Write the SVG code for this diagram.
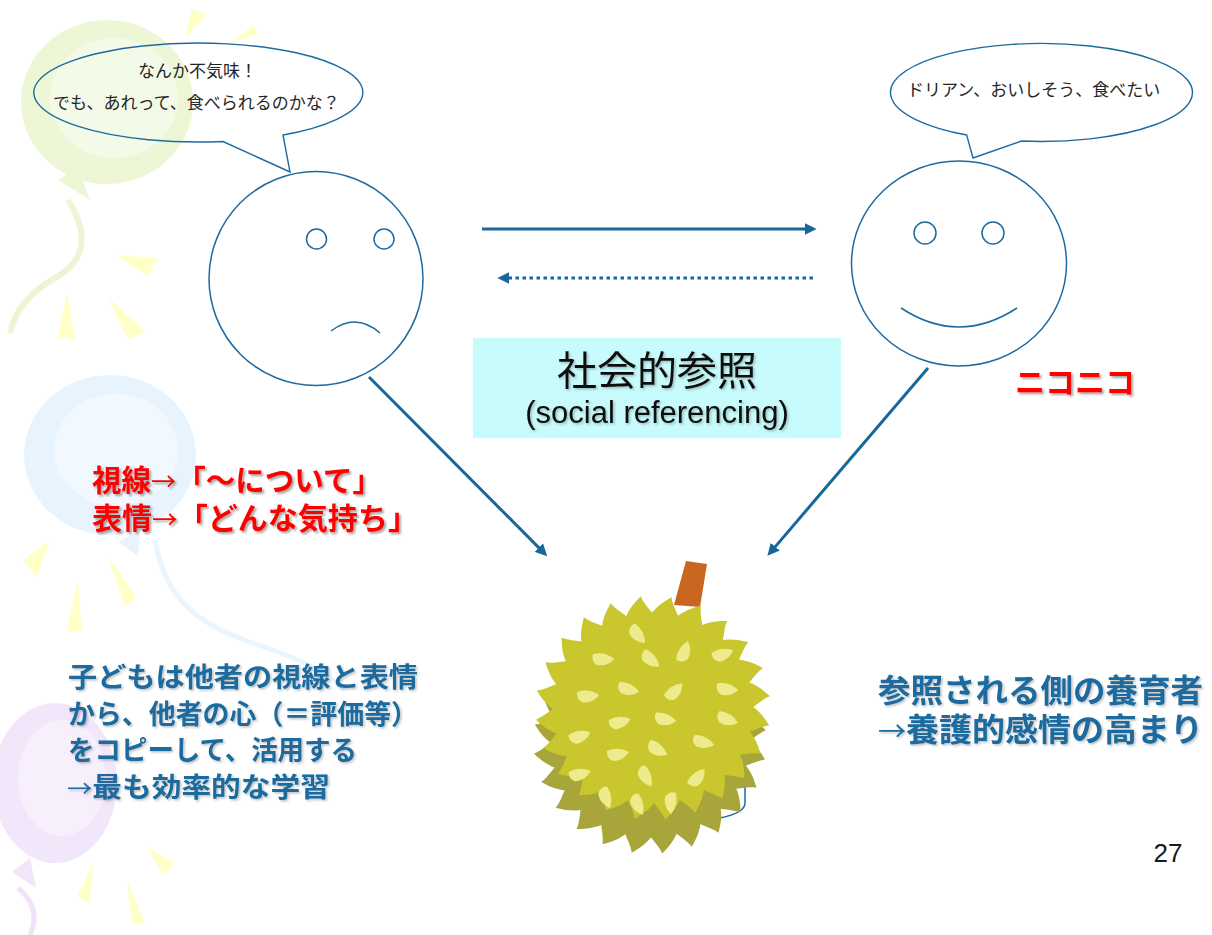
<svg xmlns="http://www.w3.org/2000/svg" xmlns:xlink="http://www.w3.org/1999/xlink" width="1212" height="935" viewBox="0 0 1212 935">
  <style>
    .jp { font-family: "Noto Sans CJK JP", "Noto Sans", sans-serif; }
    .jpl { font-family: "Liberation Sans", "Noto Sans CJK JP", sans-serif; }
    .arr { font-family: "Noto Sans CJK JP", sans-serif; font-weight: normal; font-size: 0.85em; }
    .bubble { fill: none; stroke: #1D6B9E; stroke-width: 1.4; }
    .face { fill: none; stroke: #1D6B9E; stroke-width: 1.5; }
    .say { font-size: 17px; fill: #262626; }
    .arrow { fill: none; stroke: #17679A; stroke-width: 3; marker-end: url(#ah); }
    .red { fill: #FF0000; font-size: 30px; font-weight: bold; }
    .blue { fill: #1A6A9E; font-weight: bold; }
    .ray { fill: #FFFFC8; }
  </style>
  <defs>
    <marker id="ah" viewBox="0 0 10 10" refX="7" refY="5" markerWidth="4" markerHeight="4" orient="auto" markerUnits="strokeWidth">
      <path d="M0,0 L10,5 L0,10 Z" fill="#17679A"/>
    </marker>
    <filter id="shadow" x="-10%" y="-30%" width="120%" height="160%">
      <feDropShadow dx="2" dy="2" stdDeviation="1.2" flood-color="#000" flood-opacity="0.35"/>
    </filter>
    <filter id="softshadow" x="-10%" y="-30%" width="120%" height="160%">
      <feDropShadow dx="1.5" dy="1.5" stdDeviation="1" flood-color="#000" flood-opacity="0.25"/>
    </filter>
    <!-- one rounded spike of the durian husk, base on the rim -->
    <path id="tooth" d="M-17,4 C-13,-10 -4,-18 4,-24 C6,-15 13,-8 17,4 Z"/>
    <g id="husk">
      <circle r="92"/>
      <use xlink:href="#tooth" transform="rotate(7) translate(0,-88)"/>
      <use xlink:href="#tooth" transform="rotate(22) translate(0,-88)"/>
      <use xlink:href="#tooth" transform="rotate(37) translate(0,-88)"/>
      <use xlink:href="#tooth" transform="rotate(52) translate(0,-88)"/>
      <use xlink:href="#tooth" transform="rotate(67) translate(0,-88)"/>
      <use xlink:href="#tooth" transform="rotate(82) translate(0,-88)"/>
      <use xlink:href="#tooth" transform="rotate(97) translate(0,-88)"/>
      <use xlink:href="#tooth" transform="rotate(112) translate(0,-88)"/>
      <use xlink:href="#tooth" transform="rotate(127) translate(0,-88)"/>
      <use xlink:href="#tooth" transform="rotate(142) translate(0,-88)"/>
      <use xlink:href="#tooth" transform="rotate(157) translate(0,-88)"/>
      <use xlink:href="#tooth" transform="rotate(172) translate(0,-88)"/>
      <use xlink:href="#tooth" transform="rotate(187) translate(0,-88)"/>
      <use xlink:href="#tooth" transform="rotate(202) translate(0,-88)"/>
      <use xlink:href="#tooth" transform="rotate(217) translate(0,-88)"/>
      <use xlink:href="#tooth" transform="rotate(232) translate(0,-88)"/>
      <use xlink:href="#tooth" transform="rotate(247) translate(0,-88)"/>
      <use xlink:href="#tooth" transform="rotate(262) translate(0,-88)"/>
      <use xlink:href="#tooth" transform="rotate(277) translate(0,-88)"/>
      <use xlink:href="#tooth" transform="rotate(292) translate(0,-88)"/>
      <use xlink:href="#tooth" transform="rotate(307) translate(0,-88)"/>
      <use xlink:href="#tooth" transform="rotate(322) translate(0,-88)"/>
      <use xlink:href="#tooth" transform="rotate(337) translate(0,-88)"/>
      <use xlink:href="#tooth" transform="rotate(352) translate(0,-88)"/>
    </g>
    <path id="spot" d="M-11,-4 Q0,-9 11,-3 Q5,6 -5,6 Q-12,3 -11,-4 Z"/>
  </defs>

  <rect width="1212" height="935" fill="#FFFFFF"/>

  <!-- background balloons and rays -->
  <g id="backdrop">
    <ellipse cx="107" cy="102" rx="86" ry="82" fill="#EDF7D6"/>
    <ellipse cx="114" cy="98" rx="64" ry="60" fill="#F4FAE8"/>
    <polygon points="58,180 78,167 90,200" fill="#EDF7D6"/>
    <path d="M68,200 C90,235 85,262 55,278 C30,292 15,310 10,333" fill="none" stroke="#ECF6D4" stroke-width="6"/>
    <polygon class="ray" points="185,37 192,9 207,15"/>
    <polygon class="ray" points="230,43 253,25 258,35"/>
    <polygon class="ray" points="117,255 157,258 148,277"/>
    <polygon class="ray" points="67,292 58,337 75,339"/>
    <polygon class="ray" points="108,297 128,340 145,332"/>

    <ellipse cx="110" cy="455" rx="86" ry="80" fill="#E8F4FD"/>
    <ellipse cx="116" cy="450" rx="62" ry="56" fill="#F1F8FE"/>
    <polygon points="118,542 140,530 138,556" fill="#E8F4FD"/>
    <path d="M155,540 C165,600 200,625 250,642 S320,668 345,690" fill="none" stroke="#EAF5FD" stroke-width="5"/>
    <polygon class="ray" points="23,560 50,540 37,577"/>
    <polygon class="ray" points="108,557 137,597 125,607"/>
    <polygon class="ray" points="78,580 67,630 82,632"/>

    <ellipse cx="55" cy="783" rx="62" ry="80" fill="#F2E6FB"/>
    <ellipse cx="62" cy="778" rx="44" ry="58" fill="#F7EFFC"/>
    <polygon points="12,872 30,858 36,888" fill="#F2E6FB"/>
    <path d="M18,888 Q42,908 30,935" fill="none" stroke="#F0E2FA" stroke-width="5"/>
    <polygon class="ray" points="147,847 175,863 163,875"/>
    <polygon class="ray" points="93,863 77,897 90,903"/>
    <polygon class="ray" points="127,880 132,925 145,923"/>
  </g>

  <!-- arrows between the two faces and toward the fruit -->
  <g id="connectors">
    <path class="arrow" d="M482,229 L813,229"/>
    <path class="arrow" d="M813,278 L501,278" stroke-dasharray="3.5 3.5"/>
    <path class="arrow" d="M369,377 L544.7,553.6"/>
    <path class="arrow" d="M928,368 L769.8,553.1"/>
    <path d="M745,740 L745,803 Q745,813 720,818" fill="none" stroke="#1B6FA8" stroke-width="1.5"/>
  </g>

  <g id="bubble-left">
    <path class="bubble" d="M223,141.5 A164.5,49.5 0 1 1 283,135 L290,172 Z"/>
    <text class="jp say" x="138" y="77">なんか不気味！</text>
    <text class="jp say" x="53" y="109">でも、あれって、食べられるのかな？</text>
  </g>

  <g id="face-left">
    <circle class="face" cx="316" cy="278.5" r="107"/>
    <circle class="face" cx="316.5" cy="239" r="10"/>
    <circle class="face" cx="384" cy="239" r="10"/>
    <path class="face" d="M331,331 Q356,312 380,333"/>
  </g>

  <g id="bubble-right">
    <path class="bubble" d="M966.7,135 A151,49 0 1 1 1021.5,141 L973,158 Z"/>
    <text class="jp say" x="907" y="96">ドリアン、おいしそう、食べたい</text>
  </g>

  <g id="face-right">
    <ellipse class="face" cx="959" cy="263.5" rx="107.5" ry="102.5"/>
    <circle class="face" cx="925" cy="233" r="11"/>
    <circle class="face" cx="993" cy="233" r="11"/>
    <path class="face" d="M901,308 Q959,346 1017,308"/>
    <text class="jp red" x="1015" y="393" filter="url(#shadow)">ニコニコ</text>
  </g>

  <g id="label">
    <rect x="473" y="338" width="368" height="100" fill="#C8FBFC"/>
    <text class="jp" x="657" y="385" font-size="40" fill="#111" text-anchor="middle" filter="url(#softshadow)">社会的参照</text>
    <text x="657" y="423" font-family="Liberation Sans, Arial, sans-serif" font-size="31" fill="#111" text-anchor="middle" filter="url(#softshadow)">(social referencing)</text>
  </g>

  <g id="durian">
    <polygon points="686,561 707,564 700,607 674,605" fill="#C9661F"/>
    <use xlink:href="#husk" fill="#A8A53B" transform="translate(650,742) scale(1.04,1)"/>
    <use xlink:href="#husk" fill="#C9C62E" transform="translate(653,708) scale(1.05,1)"/>
    <g fill="#EEEB8C">
      <use xlink:href="#spot" transform="translate(637,635) rotate(60)"/>
      <use xlink:href="#spot" transform="translate(603,660) rotate(10)"/>
      <use xlink:href="#spot" transform="translate(650,660) rotate(50)"/>
      <use xlink:href="#spot" transform="translate(685,652) rotate(-60)"/>
      <use xlink:href="#spot" transform="translate(723,655) rotate(-10)"/>
      <use xlink:href="#spot" transform="translate(588,697) rotate(5)"/>
      <use xlink:href="#spot" transform="translate(628,690) rotate(25)"/>
      <use xlink:href="#spot" transform="translate(675,692) rotate(-35)"/>
      <use xlink:href="#spot" transform="translate(727,690) rotate(15)"/>
      <use xlink:href="#spot" transform="translate(620,723) rotate(-5)"/>
      <use xlink:href="#spot" transform="translate(665,720) rotate(20)"/>
      <use xlink:href="#spot" transform="translate(727,720) rotate(30)"/>
      <use xlink:href="#spot" transform="translate(580,737) rotate(-10)"/>
      <use xlink:href="#spot" transform="translate(618,755) rotate(0)"/>
      <use xlink:href="#spot" transform="translate(657,750) rotate(40)"/>
      <use xlink:href="#spot" transform="translate(703,743) rotate(25)"/>
      <use xlink:href="#spot" transform="translate(580,775) rotate(-5)"/>
      <use xlink:href="#spot" transform="translate(645,777) rotate(70)"/>
      <use xlink:href="#spot" transform="translate(698,778) rotate(-40)"/>
      <use xlink:href="#spot" transform="translate(605,798) rotate(80)"/>
      <use xlink:href="#spot" transform="translate(637,805) rotate(75)"/>
      <use xlink:href="#spot" transform="translate(670,803) rotate(100)"/>
    </g>
  </g>

  <g id="note-gaze" filter="url(#shadow)">
    <text class="jpl red" x="92" y="491" textLength="290" lengthAdjust="spacingAndGlyphs">視線<tspan class="arr">→</tspan>「～について」</text>
    <text class="jpl red" x="92" y="529" textLength="326" lengthAdjust="spacingAndGlyphs">表情<tspan class="arr">→</tspan>「どんな気持ち」</text>
  </g>

  <g id="note-child" class="jpl blue" font-size="27" filter="url(#softshadow)">
    <text x="68" y="687" textLength="350" lengthAdjust="spacingAndGlyphs">子どもは他者の視線と表情</text>
    <text x="68" y="724" textLength="350" lengthAdjust="spacingAndGlyphs">から、他者の心（＝評価等）</text>
    <text x="68" y="760" textLength="289" lengthAdjust="spacingAndGlyphs">をコピーして、活用する</text>
    <text x="67" y="797" textLength="263" lengthAdjust="spacingAndGlyphs"><tspan class="arr">→</tspan>最も効率的な学習</text>
  </g>

  <g id="note-carer" class="jpl blue" font-size="32" filter="url(#softshadow)">
    <text x="878" y="702" textLength="325" lengthAdjust="spacingAndGlyphs">参照される側の養育者</text>
    <text x="878" y="741" textLength="325" lengthAdjust="spacingAndGlyphs"><tspan class="arr">→</tspan>養護的感情の高まり</text>
  </g>

  <text id="page-number" x="1168" y="862" font-family="Liberation Sans, Arial, sans-serif" font-size="26" fill="#1A1A1A" text-anchor="middle">27</text>
</svg>
